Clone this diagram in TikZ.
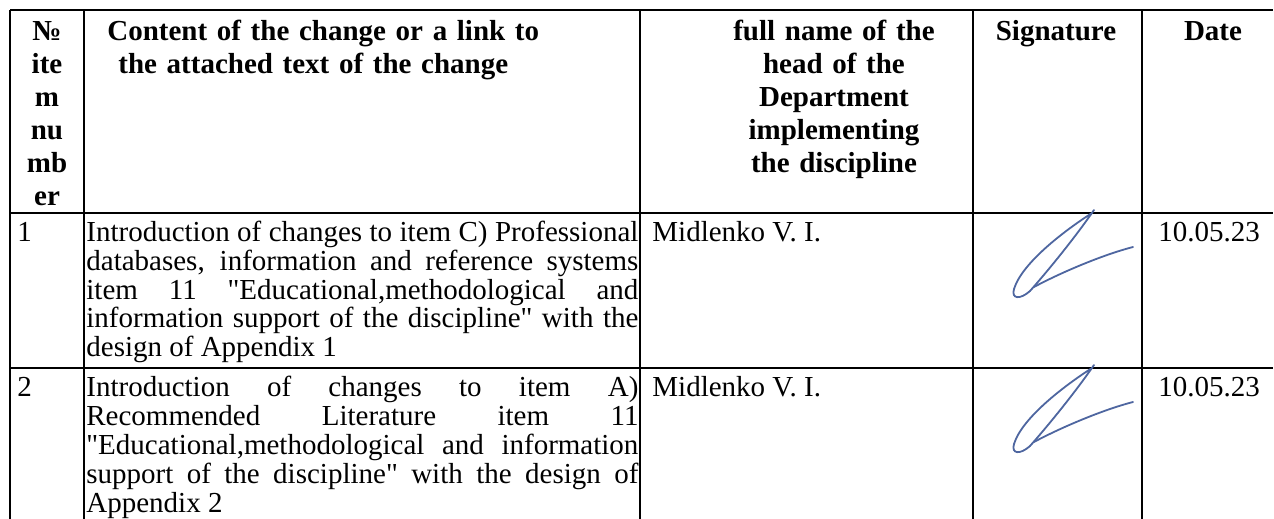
\documentclass[tikz,border=0pt]{standalone}
\usepackage{fontspec}
\setmainfont{Liberation Serif}[Ligatures=TeXOff]
\usetikzlibrary{positioning}

\tikzset{
  rule/.style={line width=1pt},
  headtxt/.style={font=\bfseries\fontsize{14.5pt}{16.5pt}\selectfont, inner sep=0pt, anchor=base},
  bodytxt/.style={font=\fontsize{14.5pt}{14.5pt}\selectfont, inner sep=0pt, anchor=base west},
  signink/.style={color={rgb,255:red,78;green,102;blue,160}, line width=0.9pt, line cap=round}
}

\begin{document}
\begin{tikzpicture}[x=0.5pt,y=0.5pt,yscale=-1,xscale=1]
\useasboundingbox (0,0) rectangle (1274,519);

% table rules
\draw[rule] (10,10) -- (1273,10);
\draw[rule] (10,213) -- (1273,213);
\draw[rule] (10,368) -- (1273,368);
\foreach \xc in {10,84,640,973,1142}
  \draw[rule] (\xc,10) -- (\xc,519);

% header
\node[headtxt, text width=35pt, align=center] (hnum) at (47,41) {№\\ite\\m\\nu\\mb\\er};
\node[headtxt, anchor=base west, text width=260pt, align=left] (hcont) at (107,41) {\makebox[233pt][s]{Content of the change or a link to}\\\hspace*{5.5pt}\makebox[203pt][s]{the attached text of the change}};
\node[headtxt, text width=160pt, align=center] (hname) at (834,41) {full name of the\\head of the\\Department\\implementing\\the discipline};
\node[headtxt] (hsign) at (1056,41) {Signature};
\node[headtxt] (hdate) at (1213,41) {Date};

% row 1
\node[bodytxt] (num1) at (17,241) {1};
\node[bodytxt, text width=276pt, align=justify] (cont1) at (86,241) {Introduction of changes to item C) Professional\linebreak databases, information and reference systems\linebreak item 11 "Educational,methodological and\linebreak information support of the discipline" with the\linebreak design of Appendix 1};
\node[bodytxt] (name1) at (652,241) {Midlenko V. I.};
\node[bodytxt] (date1) at (1158,241) {10.05.23};

% row 2
\node[bodytxt] (num2) at (17,396) {2};
\node[bodytxt, text width=276pt, align=justify] (cont2) at (86,396) {Introduction of changes to item A)\linebreak Recommended Literature item 11\linebreak "Educational,methodological and information\linebreak support of the discipline" with the design of\linebreak Appendix 2};
\node[bodytxt] (name2) at (652,396) {Midlenko V. I.};
\node[bodytxt] (date2) at (1158,396) {10.05.23};

% signatures
\foreach \ys in {297,452} {
  \draw[signink, shift={(1012,\ys)}] (80,-84) .. controls (52,-66) and (10,-34) .. (2,-8)
    .. controls (-1,2) and (8,3) .. (18,-6) .. controls (34,-24) and (62,-58) .. (82,-87);
  \draw[signink, shift={(1012,\ys)}] (22,-10) .. controls (48,-24) and (90,-42) .. (121,-50);
}
\end{tikzpicture}
\end{document}
